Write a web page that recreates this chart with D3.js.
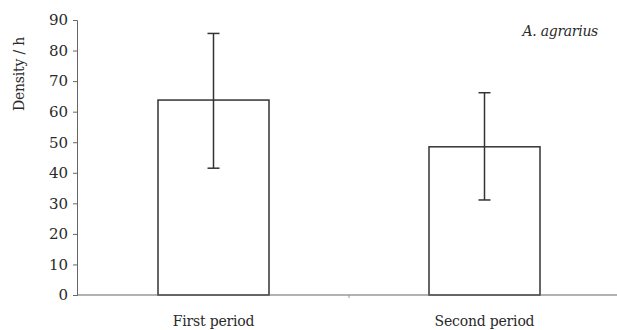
<!DOCTYPE html>
<html>
<head>
<meta charset="utf-8">
<script src="https://cdn.jsdelivr.net/npm/d3@7"></script>
<style>
  body { margin: 0; background: #fff; }
  text { font-family: "DejaVu Serif", "Liberation Serif", serif; fill: #2a2a2a; }
</style>
</head>
<body>
<div id="chart"></div>
<script>
// Data
const periods = ["First period", "Second period"];
const density = [63.8, 48.5];
const errLow = [41.5, 31.1];
const errHigh = [85.6, 66.2];
const yTicks = [0, 10, 20, 30, 40, 50, 60, 70, 80, 90];

const width = 617, height = 330;
const margin = { top: 20, right: 0, bottom: 35, left: 77 };

const svg = d3.select("#chart")
    .append("svg")
    .attr("width", width)
    .attr("height", height);

// scales
const xScale = d3.scalePoint()
    .domain(periods)
    .range([margin.left + 1, 620])
    .padding(0.5);

const yScale = d3.scaleLinear()
    .domain([0, 90])
    .range([height - margin.bottom, margin.top]);

const barW = 111;
const ink = "#333";

// bars
svg.selectAll(".bar")
    .data(periods)
    .enter().append("rect")
    .attr("x", d => xScale(d) - barW / 2)
    .attr("y", (d, i) => yScale(density[i]))
    .attr("width", barW)
    .attr("height", (d, i) => yScale(0) - yScale(density[i]))
    .attr("fill", "#fff")
    .attr("stroke", ink)
    .attr("stroke-width", 1.5);

// error bars
const err = svg.selectAll(".err")
    .data(periods)
    .enter().append("g");

err.append("line")
    .attr("x1", d => xScale(d))
    .attr("x2", d => xScale(d))
    .attr("y1", (d, i) => yScale(errLow[i]))
    .attr("y2", (d, i) => yScale(errHigh[i]))
    .attr("stroke", ink)
    .attr("stroke-width", 1.5);

[errLow, errHigh].forEach(arr => {
    err.append("line")
        .attr("x1", d => xScale(d) - 6)
        .attr("x2", d => xScale(d) + 6)
        .attr("y1", (d, i) => yScale(arr[i]))
        .attr("y2", (d, i) => yScale(arr[i]))
        .attr("stroke", ink)
        .attr("stroke-width", 1.5);
});

// y axis
const yAxis = svg.append("g")
    .attr("transform", "translate(" + margin.left + ",0)")
    .call(d3.axisLeft(yScale).tickValues(yTicks).tickSize(4).tickPadding(5));
yAxis.select(".domain").attr("stroke", "#666");
yAxis.selectAll(".tick line").attr("stroke", "#666");
yAxis.selectAll("text")
    .style("font-size", "15px")
    .style("font-family", "DejaVu Serif, serif")
    .attr("fill", "#2a2a2a");

// x axis baseline
svg.append("line")
    .attr("x1", margin.left)
    .attr("x2", width)
    .attr("y1", yScale(0))
    .attr("y2", yScale(0))
    .attr("stroke", "#666")
    .attr("stroke-width", 1.2);

// small tick between the two categories
svg.append("line")
    .attr("x1", (xScale(periods[0]) + xScale(periods[1])) / 2)
    .attr("x2", (xScale(periods[0]) + xScale(periods[1])) / 2)
    .attr("y1", yScale(0))
    .attr("y2", yScale(0) + 3)
    .attr("stroke", "#999");

// x labels
svg.selectAll(".xlab")
    .data(periods)
    .enter().append("text")
    .attr("x", d => xScale(d))
    .attr("y", 326)
    .attr("text-anchor", "middle")
    .style("font-size", "14px")
    .style("letter-spacing", "-0.2px")
    .text(d => d);

// y axis title
svg.append("text")
    .attr("transform", "translate(24,74) rotate(-90)")
    .attr("text-anchor", "middle")
    .style("font-size", "14px")
    .style("letter-spacing", "-0.2px")
    .text("Density / h");

// species name
svg.append("text")
    .attr("x", 598)
    .attr("y", 36)
    .attr("text-anchor", "end")
    .style("font-size", "14px")
    .style("font-style", "italic")
    .style("letter-spacing", "-0.3px")
    .text("A. agrarius");
</script>
</body>
</html>
